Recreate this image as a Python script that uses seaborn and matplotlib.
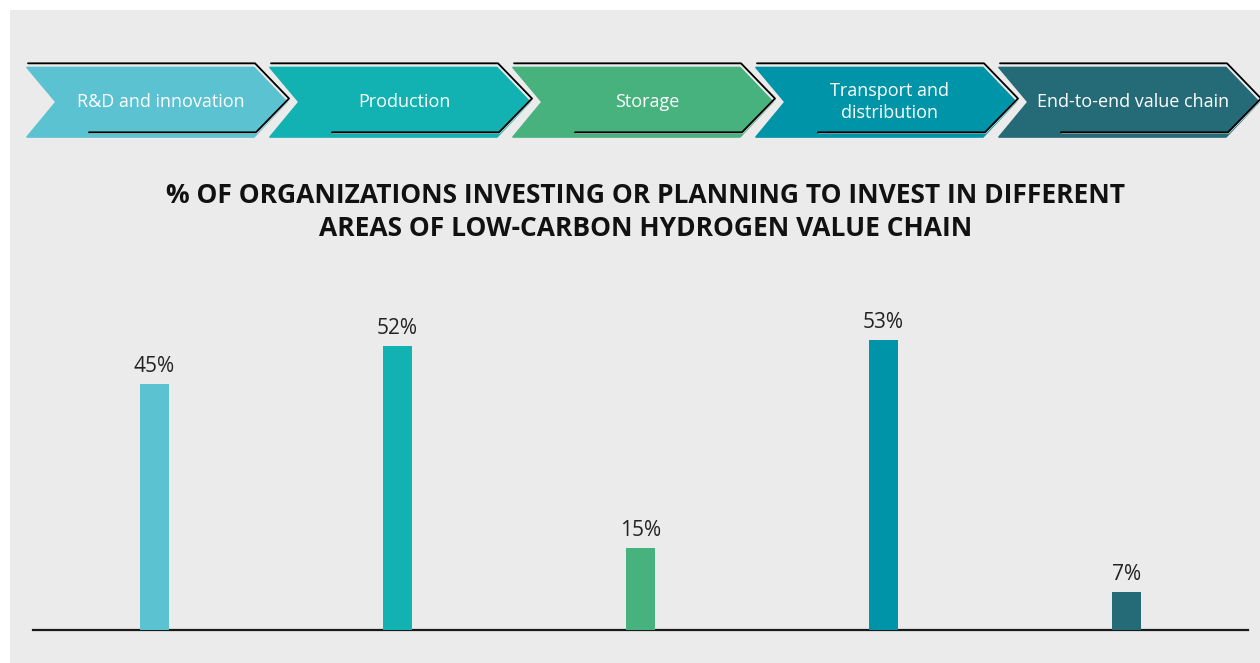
import matplotlib
matplotlib.use("Agg")
import matplotlib.pyplot as plt
from matplotlib.patches import Polygon, Rectangle
import seaborn as sns
import pandas as pd

# ---- data ----
categories = ["R&D and innovation", "Production", "Storage",
              "Transport and distribution", "End-to-end value chain"]
header_labels = ["R&D and innovation", "Production", "Storage",
                 "Transport and\ndistribution", "End-to-end value chain"]
values = [45, 52, 15, 53, 7]
title_text = ("% OF ORGANIZATIONS INVESTING OR PLANNING TO INVEST IN DIFFERENT\n"
              "AREAS OF LOW-CARBON HYDROGEN VALUE CHAIN")

palette = ["#5BC2D2", "#12B2B2", "#48B27F", "#0094A8", "#246B77"]
BG = "#EBEBEB"

sns.set_theme(style="white")
plt.rcParams['font.family'] = ['Open Sans', 'DejaVu Sans']

W, H = 1260, 663
fig = plt.figure(figsize=(W / 100, H / 100), dpi=100)
fig.patch.set_facecolor("white")

# overlay axes in pixel coordinates for background, header chevrons and title
ov = fig.add_axes([0, 0, 1, 1])
ov.set_xlim(0, W)
ov.set_ylim(H, 0)
ov.axis("off")
ov.add_patch(Rectangle((10, 10), W - 10, H - 10, facecolor=BG, edgecolor="none", zorder=0))

step = 243
for i, (lab, col) in enumerate(zip(header_labels, palette)):
    x0 = 27 + step * i
    shape = [(x0, 67.5), (x0 + 227, 67.5), (x0 + 260, 102), (x0 + 227, 137),
             (x0, 137), (x0 + 29, 102)]
    ov.add_patch(Polygon(shape, closed=True, facecolor=col, edgecolor=col,
                         linewidth=1.2, joinstyle="round", zorder=2))
    line = [(x0 + 1, 63.3), (x0 + 228, 63.3), (x0 + 262, 98.5),
            (x0 + 229, 132.3), (x0 + 62, 132.3)]
    xs, ys = zip(*line)
    ov.plot([x + 0.8 for x in xs], [y + 0.8 for y in ys], color="#DADADA", lw=0.8,
            solid_joinstyle="round", zorder=3)
    ov.plot(xs, ys, color="black", lw=1.3, solid_joinstyle="round", zorder=4)
    ov.text(x0 + 134, 102, lab, color="white", fontsize=13, ha="center",
            va="center", linespacing=1.35, zorder=5)

ov.text(646, 212, title_text, ha="center", va="center", fontsize=19,
        fontweight="bold", color="#111111", linespacing=1.25, zorder=5)

# bar axes
left, right = 33 / W, 1248 / W
bottom = (H - 630) / H
top = (H - 302) / H
ax = fig.add_axes([left, bottom, right - left, top - bottom])
ax.patch.set_alpha(0)

df = pd.DataFrame({"category": categories, "value": values})
sns.barplot(data=df, x="category", y="value", hue="category", palette=palette,
            width=0.123, legend=False, ax=ax, saturation=1, zorder=3,
            linewidth=0, edgecolor="none")
ax.set_xlim(-0.5, len(categories) - 0.5)
ax.set_ylim(0, 60)
for c in ax.containers:
    ax.bar_label(c, fmt="%d%%", padding=5, fontsize=15, color="#222222")

for s in ["top", "right", "left"]:
    ax.spines[s].set_visible(False)
ax.spines["bottom"].set_color("#1a1a1a")
ax.spines["bottom"].set_linewidth(1.6)
ax.set_xticks([])
ax.set_yticks([])
ax.set_xlabel("")
ax.set_ylabel("")

fig.savefig("out.png", dpi=100, facecolor=fig.get_facecolor())
